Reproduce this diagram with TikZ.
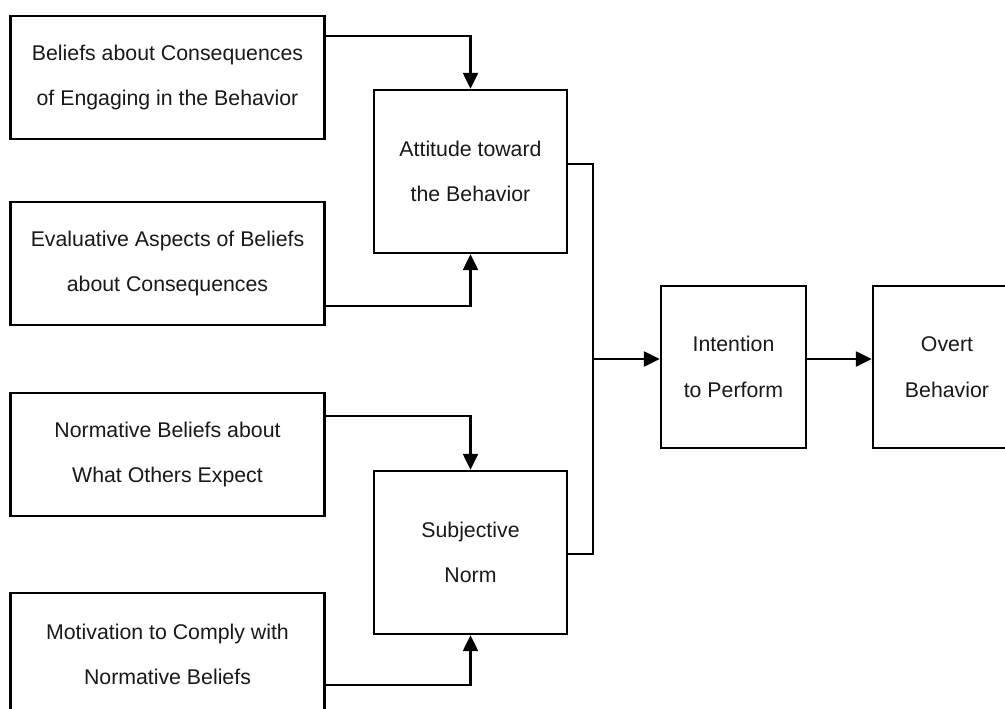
\documentclass[tikz,border=0pt]{standalone}
\usepackage{fontspec}
\setmainfont{Liberation Sans}
\usetikzlibrary{arrows.meta}

\begin{document}
\begin{tikzpicture}[x=1pt,y=-1pt,
  box/.style={draw, line width=2.4pt, inner sep=0pt, align=center,
    font=\fontsize{21.3}{45.5}\selectfont, text=black!90},
  leftbox/.style={box, minimum width=314pt, minimum height=123pt},
  midbox/.style={box, minimum width=193pt, minimum height=163pt},
  rightbox/.style={box, minimum width=145pt, minimum height=162pt},
  link/.style={line width=2.4pt},
  arr/.style={link, -{Triangle[length=16pt,width=15pt]}}]

% page frame
\fill[white] (0,0) rectangle (1005,709);
\useasboundingbox (0,0) rectangle (1005,709);
\clip (0,0) rectangle (1005,709);

% belief boxes on the left
\node[leftbox] (b1) at (167.5,77.5)  {Beliefs about Consequences\\of Engaging in the Behavior};
\node[leftbox] (b2) at (167.5,263.5) {Evaluative Aspects of Beliefs\\about Consequences};
\node[leftbox] (b3) at (167.5,454.5) {Normative Beliefs about\\What Others Expect};
\node[leftbox] (b4) at (167.5,654.5) {Motivation to Comply with\\Normative Beliefs};

% attitude and norm
\node[midbox] (att) at (470.5,171.5) {Attitude toward\\the Behavior};
\node[midbox] (sn)  at (470.5,552.5) {Subjective\\Norm};

% intention and behaviour
\node[rightbox] (int) at (733.5,367) {Intention\\to Perform};
\node[rightbox, minimum width=148pt] (ov) at (947,367) {Overt\\Behavior};

% bus joining attitude and norm
\coordinate (bustop) at (593,164);
\coordinate (busmid) at (593,359);
\coordinate (busbot) at (593,554);

% beliefs into attitude and norm
\draw[arr] (b1.east |- 0,36)  -| (att.north);
\draw[arr] (b2.east |- 0,306) -| (att.south);
\draw[arr] (b3.east |- 0,416) -| (sn.north);
\draw[arr] (b4.east |- 0,685) -| (sn.south);

% attitude and norm merge into intention
\draw[link] (att.east |- bustop) -- (bustop) -- (busbot) -- (sn.east |- busbot);
\draw[arr] (busmid) -- (int.west |- busmid);
\draw[arr] (int.east |- busmid) -- (ov.west |- busmid);
\end{tikzpicture}
\end{document}
